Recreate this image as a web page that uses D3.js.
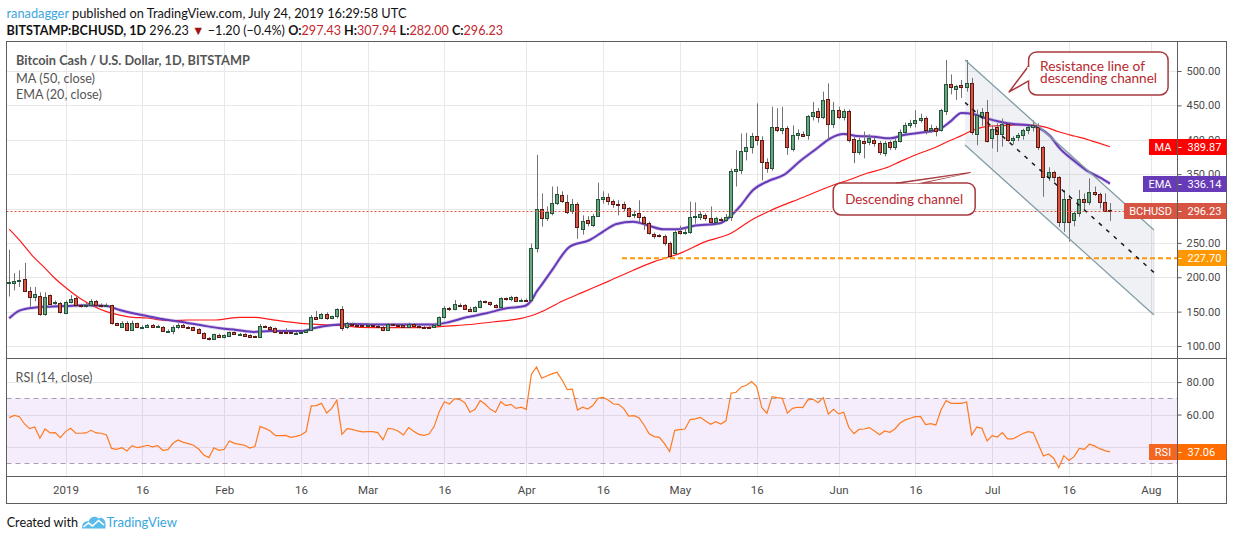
<!DOCTYPE html>
<html><head><meta charset="utf-8">
<script src="https://cdn.jsdelivr.net/npm/d3@7/dist/d3.min.js"></script>
<style>body{margin:0;background:#fff}svg{display:block}</style>
</head><body><svg id="c" width="1234" height="540"></svg>
<script>
// ---------- DATA (daily candles from 2018-12-21 to 2019-07-24) ----------
const startDate = "2018-12-21";
const opens = [191,192,195,197,180,171,173,147,174,162,162,
148,164,170,160,158,159,165,159,159,159,133,128,133,124,133,127,127,130,128,128,122,122,127,131,128,127,125,119,111,110,116,
113,115,120,117.5,117.5,116,114,113,128.6,127.5,126,120.4,121,120,119,119.5,120,123.3,141.7,140.8,146,141,143,153.4,127,132.5,131,130.5,
129,130,129.5,128,123.4,131.5,130.5,130,127.3,132.5,129.6,128,127.5,127,131,141.7,156,153.4,160,159,154,151,156.8,165,163.6,160,157.3,169.4,168,170.8,166,
167.4,166.8,242,300,286,293,307.6,319.2,309,296.6,306.6,270.7,283.3,276.5,289,313.4,317.3,310.5,307,307,300.3,290,293,288,279.4,262.5,261,260,249.4,234.8,
267,265,266,288,288,290.6,286,280.4,284.8,283.3,287.2,355,356,383.7,390,405.5,399.7,368,358.5,418,414.4,416.6,387,407,408,407,434.6,441.8,433.6,459.3,422.5,
442.8,432.6,441.4,400.6,382.7,398,397,399.7,395.8,380.3,396.3,389,398.2,411.8,421.5,424.9,428.8,432,414.2,416.6,414.2,441.8,480.6,474.2,479.7,476.3,482,409,434,440.3,
403,418,408,422.9,399.6,403.3,406.4,414.2,418,418,389,345.3,353.5,345.3,280.8,313.3,283,293,313.8,309,324.5,321,309,297.43];
const highs = [240,206,210,221,186,186,178,178,175,166,164,
166,174,172,161,163,168,167,162,162,160,134,136,136,137,134,130,132,132,131,129,124,130,133,132,129,128,126,120,113,118,118,
117,121,121,119,118.5,117,115,132,130,129,127,122,126,121,121,121,124,145,151,148,149,144,155,158,135,134,133,132,
133,131.5,130.5,129,133,133,132,132,134,133,130.5,129,128.5,132,143,158,157,167,162,161,157,158,167,166,164.5,161,171,170.5,173,172,169,
169,249,378,322,303,332,332,325,320,314,309,290,289,292,337.6,325,322,313,312,310,302,297,312,289,281,265,263,262,252,268,
275,272,310,309,296,293,303,288,287,292,358,385,409,410,410,453,405,373,448,446,448,420,421,415,412,436,455,446,470,482,455,
448,445,444,404,403,412,408,404,398,398,399,402,415,425,429,443,438,434,422,420,445,516,495,480,487,516,490,444,446,458,
421,424,431,425,405,410,416,420,428,424,391,360,355,347,327,320,295,327,322,344,332,323,322,307.94];
const lows = [172,181,186,179,157,165,144,144,160,160,147,
147,162,158,156,156,157,157,156,157,131,129,127,123,123,126,125,126,127,127,121,121,117,125,127,125,123,118,110,108,109,112,
111,113,116,116,114,112,112,112,126,124,120,119,118,118,118,118.5,119,122,139,139,138,139,140,122,125,130,127,128,
128,128.5,127,121.5,122.5,129,129,126,126.5,128.5,126,126,125.5,126,130,140,151,152,157,153,150,150,155,162,158,155,156,166,165,164,164.5,
165,165,236,273.6,282,290,305,308,292,292,256,262,274,273,288,307,305,301,290,296,287,286,280,269,262,256,258,246,228,233,
262,262,263,278,283,282,278,276,280,281,282,332,350,370,380,392,341,352,355,411,408,378,383,400,404,400,428,425,430,400,417,
430,428,396,366,378,373,392,390,378,376,385,385,396,408,417,418,425,408,410,405,412,436,466,458,461,470,407,392,420,396,
387.5,382,390,397,393,398,400,408,412,385,317,340,339,273,266,251.7,274,288,298,305,318,300,295,282];
const closes = [193,195,196,180,171,175,146,172,161,164,149,
164,169,160,158,160,165,159,158,159,133,130,133,124,134,127,128,130,128,128.5,122,122,127,131,128,126.5,124,119,111,110,117,113,
115.5,120,117.5,117.5,115,113,113,128.6,127,125,120.4,120,119.5,118.8,119.5,120.2,123.3,141.7,140,146.1,140.3,143,153.4,125.8,133,131,130,129,
131,129.5,128,123.4,131.6,130,130,127.3,132.5,129.6,127.3,127,126.8,131,141.7,154.8,153.4,160.6,159,154,151,156.8,165,163.6,160.5,157.3,169.4,168.4,170.8,166,167.4,
166.8,242,300,285.7,294.5,307.6,320.7,310.5,295.5,306.6,272.7,281.4,278.5,289.1,313.4,316.3,310.5,307,306,300.3,289.6,292.5,288,279.4,264,260,260,249.4,231.5,265.4,
265,266,288,288.5,291.6,285.7,280.4,285.7,283.3,287.2,354.6,357.5,383.7,390,405.5,399.7,368,358.5,418,414,417,389,407,409.4,406,434.6,440,433.6,457.8,422.5,443.3,
432.6,441.4,399.7,382.7,399.7,396,402.1,394.8,381.7,394.8,389,398.2,411.8,421.5,424.9,428.8,432,414.2,416.6,412.8,443.3,480.6,476.3,478.2,477.3,482.1,411.7,436,440,398.6,
415.6,408,422.9,399.6,402,406.4,414.2,418,421.4,389,345.3,353.5,345.3,280.8,313.3,280.8,293,313.8,309,324.5,321,310,297,296.23];
const rsiValues = [58.1,59.5,58.7,54.2,51.3,52.4,45.4,51.1,48.7,48.9,45.8,
49.5,51.5,48.5,48.5,48.7,50.3,48.7,48.5,47.4,39.2,38.6,39.6,37.6,40.9,39.6,40.3,41.1,40.1,40.9,38,38.4,42.3,44.4,42.9,42.1,41.1,38.8,35.1,33.5,39.6,38,
38.6,43.7,42.3,41.7,41.1,39.4,40.3,52.6,51.5,49.9,47,47,47.2,46,46.6,47.4,49.5,65.3,65.5,66.9,61,63.8,68.8,47.8,51.3,50.9,49.9,49.3,
49.5,49.5,48.9,44.4,51.5,51.1,49.7,47.4,52,49.7,47.8,47.2,48,52.6,61.8,67.9,66.5,69.8,69.2,67.3,61.4,63.2,68.6,66.3,63.2,61.4,67.9,65.5,66.3,63.8,64.5,
63.2,84.8,89.3,82.3,83.7,85,86,81.3,75.3,75.7,62.8,64.5,63.4,65.5,70,70.6,69,66.5,66.3,63.8,59.1,59.3,58.1,53.6,48.1,46.4,46,42.1,37.2,50.3,
50.7,51.1,56.9,57.3,58.3,56.1,54,55.6,54.2,56.1,73.1,73.7,77,78,80.3,77.2,64.3,60.8,71,70.4,70,60.8,63.8,64.5,64.3,69,69.4,67.3,70.4,60.2,63.2,
60.4,61.4,52,48.3,50.9,51.1,52,49.9,47.6,49.9,49.1,51.1,54.8,56.7,57.7,58.7,58.7,53.8,54.4,53.6,62.8,68.6,66.9,66.9,66.9,67.7,47.4,52.4,51.5,43.7,
47,46.2,48.9,45,45,46.6,48.3,49.5,48.9,41.7,34.5,35.7,33.1,27.3,34.7,31.8,34.1,39.2,38.6,41.7,40.7,39,37.8,37.06];
// MA(50) and EMA(20): [day index since startDate] and values
const maIdx = [0,2,4.7,6.7,8.6,11.2,13.8,16.4,19,21.6,24.2,26.9,29.5,32,34.7,40,43,45,48,51,54,57,61,65,68.5,74,80,84,87,91,95,100,102.4,104,108,112,117,122,126,131,136,141,145,149,155,161,164,167.5,171,174,177,180.5,184,186,188,190,192,195,197.5,200,202.6,205,208,210.5,213,215];
const maVal = [270,254,230,215.4,200.8,183.9,169.3,158.2,150,145,141.7,140.7,137.8,136.8,137.8,137.8,140.2,141.7,141.7,138.8,135.4,133,131.1,129.6,127.2,126.7,126.7,128.2,129.6,132,135.4,140.3,145.1,150,165,178,194,210.6,222.7,234.8,251.8,264,283.3,298,316,334.2,341.5,351.2,358.5,368.2,377.9,387.6,399.7,406,413,418,420,420.9,421.9,421.4,418,411.7,405.4,400.6,394.8,389.87];
const emaIdx = [0,2,4.7,7.3,11.2,15.1,19,21.6,24.2,26.9,29.5,33.4,37.3,41.2,44.4,47.7,50.9,54.2,57.4,59.4,63.3,67.2,72.4,77.6,82.8,85.4,89.3,93.2,97.1,100.7,102,103,104,106,109.5,113.4,116,118.6,121.9,124.5,127.8,130.4,133.6,138.8,140.8,142.7,145.3,148.3,151.3,154.5,157.8,160.4,163,165.6,168.8,172.1,174.7,178.6,181.8,183.8,186,188.3,190.9,193.5,196.1,198.7,201.3,203.3,205.2,207.8,210.5,213.1,215];
const emaVal = [140.2,151.4,155.7,157.2,158.2,159.1,158.2,152.3,147.5,143.6,139.7,135.4,130.5,125.7,123.3,120.4,121.9,121.9,121.9,125.8,130.6,132,131.1,131.1,131.1,134,141.7,147.6,154.8,158.2,166,179,189,210,244.5,254.2,266.4,277.5,280.9,276.1,269.8,269.8,274.6,278.5,288.2,302.7,327,340,348.8,369.1,387.6,402.1,408.4,405.5,404.5,402.1,407,410.8,415.7,426.3,439,437.4,431.1,426.3,422.9,421.4,416.6,405.4,387.5,370.5,355,344.8,336.14];
const priceTicks = [100,150,200,250,300,350,400,450,500];
const rsiTicks = [40,60,80];
const timeTickDates = ["2019-01-01","2019-01-16","2019-02-01","2019-02-16","2019-03-01","2019-03-16","2019-04-01","2019-04-16","2019-05-01","2019-05-16","2019-06-01","2019-06-16","2019-07-01","2019-07-16","2019-08-01"];
const timeTickLabels = ["2019","16","Feb","16","Mar","16","Apr","16","May","16","Jun","16","Jul","16","Aug"];
// drawing objects (day index, price)
const channelIdx = [186.7, 223.6];
const channelUpper = [516, 268.7];
const channelLower = [392.4, 145.1];
const channelMid = [454.2, 206.9];
const supportStartIdx = 119.7, supportLevel = 227.70;
const lastPrice = 296.23, lastMA = 389.87, lastEMA = 336.14, lastRSI = 37.06;
const resistTip = [195.3, 469.5];
const descTip = [187.7, 352.4];

// ---------- LAYOUT ----------
const L=6.5, R=1177.5, FR=1226.5, T=41.5, MB=358.5, RB=476.5, B=503.5;
const FONT = "Lato, 'Open Sans', sans-serif";
const svg = d3.select("#c");
svg.append("rect").attr("width",1234).attr("height",540).attr("fill","#fff");
const defs = svg.append("defs");
defs.append("clipPath").attr("id","mainclip").append("rect").attr("x",L+0.5).attr("y",T+0.5).attr("width",R-L-1).attr("height",MB-T-1);
defs.append("clipPath").attr("id","rsiclip").append("rect").attr("x",L+0.5).attr("y",MB+0.5).attr("width",R-L-1).attr("height",RB-MB-1);

const parse = d3.utcParse("%Y-%m-%d");
const t0 = parse(startDate).getTime();
const dateOf = k => new Date(t0 + k*864e5);
const x = d3.scaleUtc().domain([parse("2019-01-01"), parse("2019-08-01")]).range([65.5, 1150.9]);
const y = d3.scaleLinear().domain([100,500]).range([346,71]);
const ry = d3.scaleLinear().domain([30,70]).range([463.3,398.3]);
const tickDates = timeTickDates.map(parse);

// grid
const grid = svg.append("g").attr("stroke","#e8e8e8").attr("stroke-width",1);
priceTicks.forEach(v=>{const yy=Math.round(y(v))+0.5; grid.append("line").attr("x1",L).attr("x2",R).attr("y1",yy).attr("y2",yy);});
tickDates.forEach(d=>{const xx=Math.round(x(d))+0.5; grid.append("line").attr("x1",xx).attr("x2",xx).attr("y1",T).attr("y2",RB);});
rsiTicks.forEach(v=>{const yy=Math.round(ry(v))+0.5; grid.append("line").attr("x1",L).attr("x2",R).attr("y1",yy).attr("y2",yy);});

// RSI band
svg.append("rect").attr("x",L).attr("width",R-L).attr("y",ry(70)).attr("height",ry(30)-ry(70)).attr("fill","rgba(156,80,230,0.10)");
[70,30].forEach(v=>svg.append("line").attr("x1",L).attr("x2",R).attr("y1",Math.round(ry(v))+0.5).attr("y2",Math.round(ry(v))+0.5)
  .attr("stroke","#a8a0ad").attr("stroke-dasharray","5,4"));

const main = svg.append("g").attr("clip-path","url(#mainclip)");
// channel fill
const cx0 = x(dateOf(channelIdx[0])), cx1 = x(dateOf(channelIdx[1]));
main.append("path").attr("d",`M${cx0},${y(channelUpper[0])}L${cx1},${y(channelUpper[1])}L${cx1},${y(channelLower[1])}L${cx0},${y(channelLower[0])}Z`)
  .attr("fill","rgba(120,140,170,0.12)").attr("stroke","none");
main.append("line").attr("x1",cx1).attr("x2",cx1).attr("y1",y(channelUpper[1])).attr("y2",y(channelLower[1])).attr("stroke","rgba(120,140,170,0.22)");

// MA / EMA
const lineGen = d3.line().x(d=>x(dateOf(d[0]))).y(d=>y(d[1])).curve(d3.curveMonotoneX);
const maPts = maIdx.map((k,i)=>[k,maVal[i]]);
const emaPts = emaIdx.map((k,i)=>[k,emaVal[i]]);
main.append("path").attr("d",lineGen(maPts)).attr("fill","none").attr("stroke","#ff1a1a").attr("stroke-width",1.2);
main.append("path").attr("d",lineGen(emaPts)).attr("fill","none").attr("stroke","rgba(103,58,183,0.25)").attr("stroke-width",3.6);
main.append("path").attr("d",lineGen(emaPts)).attr("fill","none").attr("stroke","#673ab7").attr("stroke-width",2);

// candles
const data = closes.map((c,i)=>({k:i,o:opens[i],h:highs[i],l:lows[i],c}));
const cxr = d => Math.round(x(dateOf(d.k)));
main.append("g").selectAll("line").data(data).join("line")
  .attr("x1",d=>cxr(d)+0.5).attr("x2",d=>cxr(d)+0.5).attr("y1",d=>y(d.h)).attr("y2",d=>y(d.l))
  .attr("stroke","#737375").attr("stroke-width",1);
main.append("g").selectAll("rect").data(data).join("rect")
  .attr("x",d=>cxr(d)-1.5).attr("width",3)
  .attr("y",d=>Math.round(Math.min(y(d.o),y(d.c)))+0.5)
  .attr("height",d=>Math.max(1,Math.round(Math.max(y(d.o),y(d.c)))-Math.round(Math.min(y(d.o),y(d.c)))))
  .attr("fill",d=>d.c>=d.o?"#6ba583":"#d75442").attr("stroke",d=>d.c>=d.o?"#225437":"#5b1a13").attr("stroke-width",1);

// price line, support, channel lines
const py = Math.round(y(lastPrice))+0.5;
main.append("line").attr("x1",L).attr("x2",R).attr("y1",py).attr("y2",py).attr("stroke","#d75442").attr("stroke-dasharray","2,2");
main.append("line").attr("x1",x(dateOf(supportStartIdx))).attr("x2",R).attr("y1",y(supportLevel)).attr("y2",y(supportLevel))
  .attr("stroke","#ff9800").attr("stroke-width",2).attr("stroke-dasharray","5,3");
main.append("line").attr("x1",cx0).attr("x2",cx1).attr("y1",y(channelUpper[0])).attr("y2",y(channelUpper[1])).attr("stroke","#7f9ba4").attr("stroke-width",1.2);
main.append("line").attr("x1",cx0).attr("x2",cx1).attr("y1",y(channelLower[0])).attr("y2",y(channelLower[1])).attr("stroke","#7f9ba4").attr("stroke-width",1.2);
main.append("line").attr("x1",cx0).attr("x2",cx1).attr("y1",y(channelMid[0])).attr("y2",y(channelMid[1])).attr("stroke","#1a1a1a").attr("stroke-width",1.5).attr("stroke-dasharray","4,6");

// RSI line
svg.append("g").attr("clip-path","url(#rsiclip)").append("path")
  .attr("d",d3.line().x((v,i)=>x(dateOf(i))).y(v=>ry(v))(rsiValues))
  .attr("fill","none").attr("stroke","#ff7a1f").attr("stroke-width",1.2);

// text fitting by font size (no glyph stretching)
function fitFont(sel,w){const n=sel.node();const len=n.getComputedTextLength();const fs=parseFloat(sel.attr("font-size"));if(len>0)sel.attr("font-size",(fs*w/len).toFixed(2));return sel;}

// callouts
const AC="#a83a3f", AT="#b8282e";
{ // resistance callout
  const tx=x(dateOf(resistTip[0])), ty=y(resistTip[1]);
  const bx=tx+19.5, by=ty-40, bw=139.5, bh=43;
  const g=svg.append("g");
  g.append("rect").attr("x",bx).attr("y",by).attr("width",bw).attr("height",bh).attr("rx",8).attr("fill","#fff").attr("stroke",AC).attr("stroke-width",1.5);
  g.append("path").attr("d",`M${bx},${ty-26}L${tx},${ty}L${bx},${ty-11}`).attr("fill","#fff").attr("stroke",AC).attr("stroke-width",1.5).attr("stroke-linejoin","round");
  g.append("line").attr("x1",bx).attr("x2",bx).attr("y1",ty-25).attr("y2",ty-12).attr("stroke","#fff").attr("stroke-width",2.5);
  fitFont(g.append("text").attr("x",bx+11.5).attr("y",ty-20.5).attr("fill",AT).attr("font-size",13.5).attr("font-family",FONT).text("Resistance line of"),105);
  fitFont(g.append("text").attr("x",bx+11.5).attr("y",ty-8.7).attr("fill",AT).attr("font-size",13.5).attr("font-family",FONT).text("descending channel"),117);
}
{ // descending channel callout
  const tx=x(dateOf(descTip[0])), ty=y(descTip[1]);
  const bx=tx-137, by=ty+10.5, bw=142, bh=32;
  const g=svg.append("g");
  g.append("rect").attr("x",bx).attr("y",by).attr("width",bw).attr("height",bh).attr("rx",8).attr("fill","#fff").attr("stroke",AC).attr("stroke-width",1.5);
  g.append("path").attr("d",`M${tx-74},${by}L${tx},${ty}L${tx-48},${by}`).attr("fill",AC).attr("stroke",AC).attr("stroke-width",1.2).attr("stroke-linejoin","round");
  g.append("path").attr("d",`M${tx-68},${by+0.3}L${tx-6},${ty+1.6}L${tx-52},${by+0.3}Z`).attr("fill","#fff");
  fitFont(g.append("text").attr("x",bx+12).attr("y",by+21).attr("fill",AT).attr("font-size",14).attr("font-family",FONT).text("Descending channel"),118);
}

// frame
const fr = svg.append("g").attr("stroke","#5d5d5d").attr("stroke-width",1).attr("fill","none");
fr.append("rect").attr("x",L).attr("y",T).attr("width",FR-L).attr("height",B-T);
fr.append("line").attr("x1",R).attr("x2",R).attr("y1",T).attr("y2",B);
fr.append("line").attr("x1",L).attr("x2",FR).attr("y1",MB).attr("y2",MB);
fr.append("line").attr("x1",L).attr("x2",FR).attr("y1",RB).attr("y2",RB);

// axes
function styleAxis(g){g.select(".domain").remove();g.attr("font-family","Roboto, sans-serif").attr("font-size",11);
  g.selectAll(".tick line").attr("stroke","#5d5d5d");g.selectAll(".tick text").attr("fill","#4a4a4a");}
const hiddenLabels = [300, 40]; // fully covered by the value labels in the reference
const pa = svg.append("g").attr("transform",`translate(${R},0)`).call(d3.axisRight(y).tickValues(priceTicks).tickFormat(d3.format(".2f")).tickSize(4).tickPadding(5)).call(styleAxis);
const ra = svg.append("g").attr("transform",`translate(${R},0)`).call(d3.axisRight(ry).tickValues(rsiTicks).tickFormat(d3.format(".2f")).tickSize(4).tickPadding(5)).call(styleAxis);
[pa,ra].forEach(g=>g.selectAll(".tick").filter(d=>hiddenLabels.includes(d)).select("text").remove());
const ta = svg.append("g").attr("transform",`translate(0,${RB})`).call(d3.axisBottom(x).tickValues(tickDates).tickFormat((d,i)=>timeTickLabels[i]).tickSize(0).tickPadding(9)).call(styleAxis);
ta.attr("font-size",11.5);

// axis labels
function axisLabel(yc, val, color, label, lx, lcolor){
  const g=svg.append("g").attr("font-family","Roboto, sans-serif").attr("font-size",11);
  const top=Math.round(yc)-8;
  g.append("rect").attr("x",R+0.5).attr("y",top).attr("width",FR-R-0.5).attr("height",16).attr("fill",color);
  g.append("line").attr("x1",R+1).attr("x2",R+4).attr("y1",top+8.5).attr("y2",top+8.5).attr("stroke","#fff");
  g.append("text").attr("x",R+10).attr("y",top+8).attr("dy","0.35em").attr("fill","#fff").text(val);
  if(label){
    g.append("rect").attr("x",lx).attr("y",top).attr("width",R-0.5-lx).attr("height",16).attr("fill",lcolor||color);
    g.append("text").attr("x",(lx+R-0.5)/2).attr("y",top+8).attr("dy","0.35em").attr("text-anchor","middle").attr("fill","#fff").text(label);
  }
}
axisLabel(y(lastMA), d3.format(".2f")(lastMA), "#ff0000", "MA", 1149);
axisLabel(y(lastEMA), d3.format(".2f")(lastEMA), "#673ab7", "EMA", 1143);
axisLabel(y(lastPrice), d3.format(".2f")(lastPrice), "#d75442", "BCHUSD", 1124);
axisLabel(y(supportLevel), d3.format(".2f")(supportLevel), "#ff9800", null);
axisLabel(ry(lastRSI), d3.format(".2f")(lastRSI), "#ff6d00", "RSI", 1149, "#f4651f");

// legends
const lg = svg.append("g").attr("font-family",FONT).attr("fill","#555");
fitFont(lg.append("text").attr("x",16).attr("y",60.7).attr("dy","0.35em").attr("font-size",13).attr("font-weight",700).text("Bitcoin Cash / U.S. Dollar, 1D, BITSTAMP"),234);
fitFont(lg.append("text").attr("x",16).attr("y",78.3).attr("dy","0.35em").attr("font-size",13).text("MA (50, close)"),79);
fitFont(lg.append("text").attr("x",16).attr("y",95).attr("dy","0.35em").attr("font-size",13).text("EMA (20, close)"),86);
fitFont(lg.append("text").attr("x",15.5).attr("y",377.5).attr("dy","0.35em").attr("font-size",13).text("RSI (14, close)"),77);

// header
const h1 = svg.append("text").attr("x",6.5).attr("y",13.3).attr("dy","0.35em").attr("font-family",FONT).attr("font-size",13.5).attr("fill","#131313");
h1.append("tspan").attr("fill","#3ea6e0").text("ranadagger");
h1.append("tspan").text(" published on TradingView.com, July 24, 2019 16:29:58 UTC");
fitFont(h1,400);
const h2 = svg.append("text").attr("x",6.5).attr("y",30.3).attr("dy","0.35em").attr("font-family",FONT).attr("font-size",13.5).attr("fill","#131313");
const RED="#c4262e";
h2.append("tspan").attr("font-weight",700).text("BITSTAMP:BCHUSD, 1D");
h2.append("tspan").text("  296.23 ");
h2.append("tspan").attr("fill","#a31515").text("▼");
h2.append("tspan").text(" −1.20 (−0.4%) ");
[["O:","297.43"],[" H:","307.94"],[" L:","282.00"],[" C:","296.23"]].forEach(([a,b])=>{
  h2.append("tspan").attr("font-weight",700).text(a);
  h2.append("tspan").attr("fill",RED).text(b);
});
fitFont(h2,497);

// footer
const ft = svg.append("g").attr("font-family",FONT);
fitFont(ft.append("text").attr("x",6.7).attr("y",522.7).attr("dy","0.35em").attr("font-size",14.5).attr("fill","#131313").text("Created with"),71.5);
ft.append("path").attr("d","M82,528.5 C82,523.5 84.5,520.5 88.5,521.5 C90,517 95,515 98.5,518.5 C101.5,516.5 105.5,519.5 105.5,523.5 L105.5,528.5 Z").attr("fill","#5bbbe9");
ft.append("path").attr("d","M83.5,527 L88.5,523 L92.5,526 L98.5,520.5 L104,525").attr("fill","none").attr("stroke","#fff").attr("stroke-width",1.6);
fitFont(ft.append("text").attr("x",106.5).attr("y",522.7).attr("dy","0.35em").attr("font-size",14.5).attr("fill","#39a7df").text("TradingView"),70.5);
</script></body></html>
